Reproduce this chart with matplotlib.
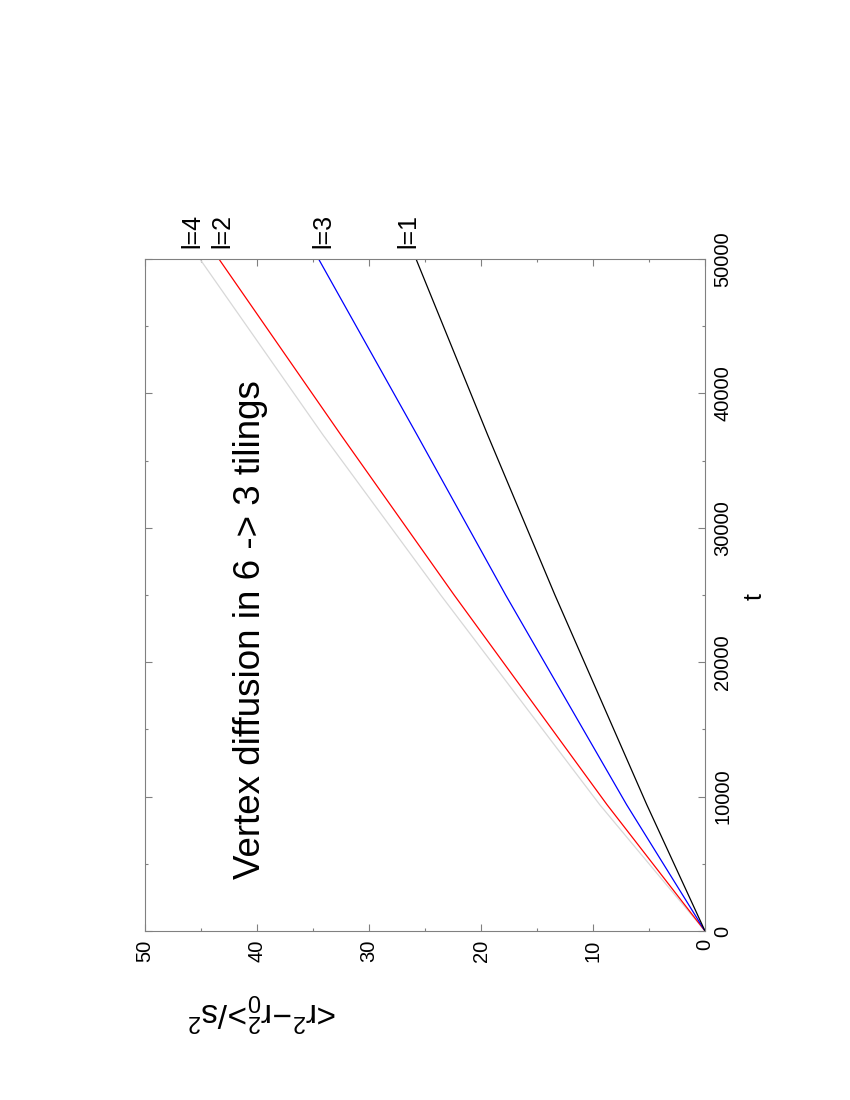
import matplotlib.pyplot as plt
from matplotlib.ticker import MultipleLocator

plt.rcParams['font.family'] = ['Liberation Sans', 'DejaVu Sans']
plt.rcParams['mathtext.fontset'] = 'custom'
plt.rcParams['mathtext.rm'] = 'Liberation Sans'
plt.rcParams['mathtext.it'] = 'Liberation Sans'

# time samples and mean square displacement per curve
t = [0, 9400, 25000, 36900, 50000]
msd_l1 = [0, 5.2, 13.4, 19.4, 25.8]
msd_l2 = [0, 8.75, 22.4, 32.5, 43.4]
msd_l3 = [0, 7.0, 17.8, 25.7, 34.5]
msd_l4 = [0, 9.4, 23.6, 34.1, 45.1]

labels = ["l=4", "l=2", "l=3", "l=1"]
label_pos = [45.8, 43.1, 34.1, 26.5]

fig = plt.figure(figsize=(8.5, 11), dpi=100)
ax = fig.add_axes([145 / 850, 1 - 931 / 1100, 560 / 850, 672 / 1100])

# the whole plot is turned on its side: t runs upwards, msd runs to the left
ax.plot(msd_l4, t, color='#d8d8d8', lw=0.9)
ax.plot(msd_l2, t, color='red', lw=0.9)
ax.plot(msd_l3, t, color='blue', lw=0.9)
ax.plot(msd_l1, t, color='black', lw=0.9)

ax.set_xlim(50, 0)
ax.set_ylim(0, 50000)
ax.xaxis.set_major_locator(MultipleLocator(10))
ax.xaxis.set_minor_locator(MultipleLocator(5))
ax.yaxis.set_major_locator(MultipleLocator(10000))
ax.yaxis.set_minor_locator(MultipleLocator(5000))
ax.yaxis.tick_right()
ax.tick_params(which='both', direction='in', top=True, bottom=True,
               left=True, right=True, color='#808080', width=0.8)
ax.tick_params(which='major', length=5, labelsize=14.5, pad=6)
ax.tick_params(which='minor', length=2.5)
for lab in ax.get_xticklabels():
    lab.set_rotation(90)
    lab.set_va('top')
    lab.set_ha('center')
for lab in ax.get_yticklabels():
    lab.set_rotation(90)
    lab.set_va('center')
    lab.set_ha('left')
for s in ax.spines.values():
    s.set_color('#808080')
    s.set_linewidth(0.8)

for lab, x in zip(labels, label_pos):
    ax.annotate(lab, xy=(x, 50000), xytext=(0, 8), textcoords='offset points',
                rotation=90, ha='center', va='bottom', fontsize=18,
                annotation_clip=False)

fig.text(755 / 850, 1 - 597 / 1100, "t", rotation=90, fontsize=18,
         ha='center', va='center')
fig.text(262 / 850, 1 - 1012 / 1100, "<r$^2$\u2212r$_0^2$>/s$^2$",
         rotation=180, fontsize=24, ha='center', va='center')
fig.text(250 / 850, 1 - 630 / 1100, "Vertex diffusion in 6 -> 3 tilings",
         rotation=90, fontsize=26.5, ha='center', va='center')

fig.savefig("out.png", dpi=100)
